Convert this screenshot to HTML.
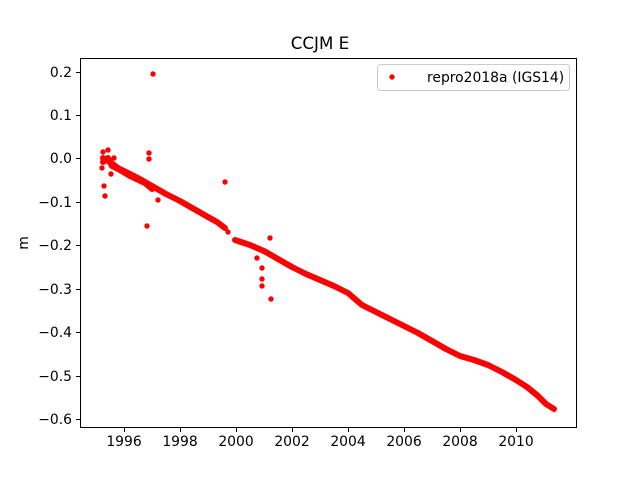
<!DOCTYPE html>
<html><head><style>body{margin:0;background:#fff}</style></head><body>
<svg width="640" height="480" xmlns="http://www.w3.org/2000/svg" font-family="DejaVu Sans, Liberation Sans, sans-serif">
<rect width="640" height="480" fill="#fff"/>
<text x="320" y="49" font-size="16.7" text-anchor="middle">CCJM E</text>
<g stroke="red" stroke-width="6" fill="none" stroke-linecap="round" stroke-linejoin="round">
<polyline points="103,158 106,160 110,162 114,165 118,168 124,171 138,178 152,186 166,194 180,201 194,209 208,217 217,222 225,228"/>
<polyline points="103,162 108,158 112,166 120,170 130,176 145,183 152,189"/>
<polyline points="235,240 250,245 264,251 278,259 292,267 306,274 320,280 334,286 348,293 362,305 376,312 390,319 404,326 418,333 432,341 446,349 460,356 474,360 488,365 502,372 516,380 527,387 538,396 546,404 554,409"/>
</g>
<g fill="red">
<circle cx="153" cy="74" r="2.7"/><circle cx="149" cy="153" r="2.7"/><circle cx="149" cy="159" r="2.7"/>
<circle cx="147" cy="226" r="2.7"/><circle cx="104" cy="186" r="2.7"/><circle cx="105" cy="196" r="2.7"/>
<circle cx="225" cy="182" r="2.7"/><circle cx="270" cy="238" r="2.7"/><circle cx="271" cy="299" r="2.7"/>
<circle cx="262" cy="279" r="2.7"/><circle cx="262" cy="286" r="2.7"/><circle cx="262" cy="268" r="2.7"/>
<circle cx="111" cy="174" r="2.7"/><circle cx="158" cy="200" r="2.7"/><circle cx="103" cy="152" r="2.7"/>
<circle cx="108" cy="150" r="2.7"/><circle cx="102" cy="168" r="2.7"/><circle cx="114" cy="158" r="2.7"/>
<circle cx="257" cy="258" r="2.7"/><circle cx="228" cy="232" r="2.7"/>
</g>
<rect x="80.5" y="58.5" width="496" height="369" fill="none" stroke="#000" stroke-width="1"/>
<g stroke="#000" stroke-width="1">
<line x1="80" y1="72.5" x2="76" y2="72.5"/><line x1="80" y1="115.5" x2="76" y2="115.5"/>
<line x1="80" y1="158.5" x2="76" y2="158.5"/><line x1="80" y1="202.5" x2="76" y2="202.5"/>
<line x1="80" y1="245.5" x2="76" y2="245.5"/><line x1="80" y1="289.5" x2="76" y2="289.5"/>
<line x1="80" y1="332.5" x2="76" y2="332.5"/><line x1="80" y1="376.5" x2="76" y2="376.5"/>
<line x1="80" y1="419.5" x2="76" y2="419.5"/>
<line x1="124.5" y1="428" x2="124.5" y2="432"/><line x1="180.5" y1="428" x2="180.5" y2="432"/>
<line x1="236.5" y1="428" x2="236.5" y2="432"/><line x1="292.5" y1="428" x2="292.5" y2="432"/>
<line x1="348.5" y1="428" x2="348.5" y2="432"/><line x1="404.5" y1="428" x2="404.5" y2="432"/>
<line x1="460.5" y1="428" x2="460.5" y2="432"/><line x1="516.5" y1="428" x2="516.5" y2="432"/>
</g>
<g font-size="13.9" text-anchor="end">
<text x="72" y="77">0.2</text><text x="72" y="120">0.1</text><text x="72" y="163">0.0</text>
<text x="72" y="207">−0.1</text><text x="72" y="250">−0.2</text><text x="72" y="294">−0.3</text>
<text x="72" y="337">−0.4</text><text x="72" y="381">−0.5</text><text x="72" y="424">−0.6</text>
</g>
<g font-size="13.9" text-anchor="middle">
<text x="124" y="446">1996</text><text x="180" y="446">1998</text><text x="236" y="446">2000</text>
<text x="292" y="446">2002</text><text x="348" y="446">2004</text><text x="404" y="446">2006</text>
<text x="460" y="446">2008</text><text x="516" y="446">2010</text>
</g>
<text x="28" y="243" font-size="13.9" text-anchor="middle" transform="rotate(-90 28 243)">m</text>
<rect x="377.5" y="64.5" width="192" height="26" rx="3" fill="#fff" stroke="#ccc"/>
<circle cx="392" cy="77" r="2.7" fill="red"/>
<text x="427" y="82" font-size="13.9">repro2018a (IGS14)</text>
</svg>
</body></html>
